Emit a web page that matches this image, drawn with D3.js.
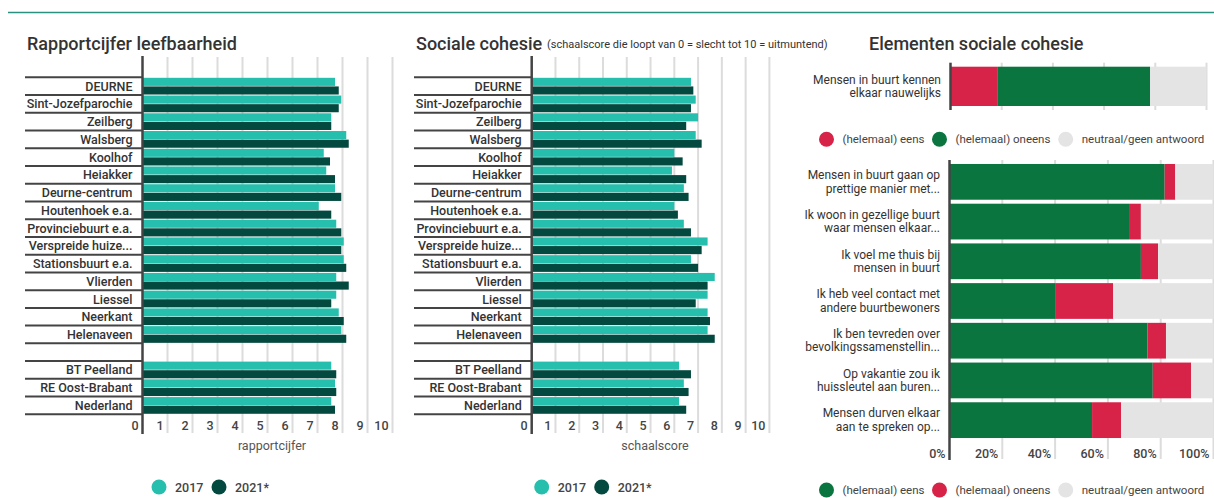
<!DOCTYPE html>
<html>
<head>
	<meta charset="utf-8">
	<script src="https://d3js.org/d3.v7.min.js"></script>
	<title>Sociale cohesie</title>
	<style type="text/css">
		body { margin: 0; background: #fff; }
		svg { display: block; font-family: Roboto, "Noto Sans", sans-serif; }
		.title { font-size: 18px; font-weight: 500; fill: #333; }
		.sub { font-size: 11px; fill: #333; }
		.rowlabel { font-size: 12.5px; font-weight: 500; fill: #333; }
		.tick { font-size: 12.5px; font-weight: 500; fill: #444; }
		.axtitle { font-size: 12.5px; fill: #555; }
		.leg { font-size: 12.5px; font-weight: 500; fill: #444; }
		.leg2 { font-size: 11.5px; fill: #444; }
		.stlabel { font-size: 12px; fill: #333; }
	</style>
</head>
<body>
	<div id="chart"></div>

	<script type="text/javascript">

		// gebieden (lege rij "-" is de witregel voor de vergelijkingsgebieden)
		var gebieden = ["DEURNE", "Sint-Jozefparochie", "Zeilberg", "Walsberg", "Koolhof", "Heiakker",
			"Deurne-centrum", "Houtenhoek e.a.", "Provinciebuurt e.a.", "Verspreide huize...",
			"Stationsbuurt e.a.", "Vlierden", "Liessel", "Neerkant", "Helenaveen", "-",
			"BT Peelland", "RE Oost-Brabant", "Nederland"];

		var rapport2017 = [7.7, 7.95, 7.55, 8.15, 7.25, 7.35, 7.7, 7.05, 7.75, 8.05, 8.05, 7.75, 7.75, 7.85, 7.95, null, 7.55, 7.7, 7.55];
		var rapport2021 = [7.85, 7.85, 7.55, 8.25, 7.5, 7.7, 7.95, 7.55, 7.95, 7.95, 8.15, 8.25, 7.55, 8.05, 8.15, null, 7.75, 7.75, 7.7];

		var cohesie2017 = [6.7, 6.9, 7.0, 6.9, 6.0, 5.9, 6.4, 6.0, 6.4, 7.4, 6.7, 7.7, 7.4, 7.4, 7.4, null, 6.2, 6.4, 6.2];
		var cohesie2021 = [6.8, 6.7, 6.5, 7.15, 6.35, 6.5, 6.6, 6.15, 6.7, 7.15, 7.0, 7.4, 6.9, 7.5, 7.7, null, 6.7, 6.6, 6.5];

		var schaalTicks = [0, 1, 2, 3, 4, 5, 6, 7, 8, 9, 10];
		var jaren = ["2017", "2021*"];

		// elementen sociale cohesie (percentages)
		var stellingTop = ["Mensen in buurt kennen", "elkaar nauwelijks"];
		var topEens = [18.5];
		var topOneens = [59.5];
		var topNeutraal = [22];

		var stellingen = [
			["Mensen in buurt gaan op", "prettige manier met..."],
			["Ik woon in gezellige buurt", "waar mensen elkaar..."],
			["Ik voel me thuis bij", "mensen in buurt"],
			["Ik heb veel contact met", "andere buurtbewoners"],
			["Ik ben tevreden over", "bevolkingssamenstellin..."],
			["Op vakantie zou ik", "huissleutel aan buren..."],
			["Mensen durven elkaar", "aan te spreken op..."]
		];
		var eens = [81.5, 68, 72.5, 40, 75, 77, 54];
		var oneens = [4, 4.5, 6.5, 22, 7, 14.5, 11];
		var neutraal = [14.5, 27.5, 21, 38, 18, 8.5, 35];
		var procentTicks = [0, 20, 40, 60, 80, 100];

		var teal = "#26bfad", donker = "#03493f";
		var groen = "#0b7540", rood = "#d82348", grijs = "#e4e4e4";

		var width = 1214, height = 498;
		var svg = d3.select("#chart").append("svg")
			.attr("width", width).attr("height", height);

		svg.append("line").attr("x1", 8).attr("x2", width).attr("y1", 12.5).attr("y2", 12.5)
			.attr("stroke", "#2a9080").attr("stroke-width", 1.5);

		function groupedPanel(opt) {
			var g = svg.append("g");
			var x = d3.scaleLinear().domain([0, 10]).range([opt.x0, opt.x1]);
			var y = d3.scaleBand().domain(gebieden).range([77.3, 414.3]);
			var sub = d3.scaleBand().domain([0, 1]).range([0, y.bandwidth()]).paddingOuter(0.06).paddingInner(0.06);

			g.append("text").attr("class", "title").attr("x", opt.titleX).attr("y", 50).text(opt.title);

			// gridlines
			g.selectAll(".grid").data(schaalTicks.slice(1)).enter().append("line")
				.attr("x1", d => x(d)).attr("x2", d => x(d))
				.attr("y1", 57).attr("y2", 433)
				.attr("stroke", "#dcdcdc").attr("stroke-width", 2);

			// scheidingslijnen labels
			var grenzen = gebieden.map(d => y(d)).concat([y.range()[1]]);
			g.selectAll(".sep").data(grenzen).enter().append("line")
				.attr("x1", opt.lineX).attr("x2", opt.x0).attr("y1", d => d).attr("y2", d => d)
				.attr("stroke", "#444").attr("stroke-width", 2);

			g.selectAll(".lab").data(gebieden.filter(d => d !== "-")).enter().append("text")
				.attr("class", "rowlabel").attr("text-anchor", "end")
				.attr("x", opt.x0 - 10).attr("y", d => y(d) + y.bandwidth() / 2 + 4.5)
				.text(d => d);

			[opt.a, opt.b].forEach(function (vals, j) {
				g.selectAll(".bar" + j).data(gebieden.map((d, i) => ({ k: d, v: vals[i] })).filter(d => d.v != null))
					.enter().append("rect")
					.attr("x", x(0)).attr("y", d => y(d.k) + sub(j))
					.attr("width", d => x(d.v) - x(0)).attr("height", sub.bandwidth())
					.attr("fill", j === 0 ? teal : donker);
			});

			// as
			g.append("line").attr("x1", x(0)).attr("x2", x(0)).attr("y1", 56).attr("y2", 434)
				.attr("stroke", "#444").attr("stroke-width", 2.5);

			g.selectAll(".tk").data(schaalTicks).enter().append("text")
				.attr("class", "tick").attr("text-anchor", "end")
				.attr("x", d => x(d) - 4).attr("y", 429.5).text(d => d);

			g.append("text").attr("class", "axtitle").attr("text-anchor", "middle")
				.attr("x", opt.axTitleX).attr("y", 450).text(opt.axTitle);

			jaren.forEach(function (j, i) {
				g.append("circle").attr("cx", opt.legX + i * 60).attr("cy", 487).attr("r", 7.5)
					.attr("fill", i === 0 ? teal : donker);
				g.append("text").attr("class", "leg").attr("x", opt.legX + 16 + i * 60).attr("y", 491.5).text(j);
			});
		}

		groupedPanel({ title: "Rapportcijfer leefbaarheid", titleX: 27, x0: 142.5, x1: 392.5, lineX: 25,
			a: rapport2017, b: rapport2021, axTitle: "rapportcijfer", axTitleX: 272, legX: 159 });
		groupedPanel({ title: "Sociale cohesie", titleX: 416, x0: 531.7, x1: 769.4, lineX: 414,
			a: cohesie2017, b: cohesie2021, axTitle: "schaalscore", axTitleX: 655, legX: 541.7 });

		svg.append("text").attr("class", "sub").attr("x", 547).attr("y", 48)
			.text("(schaalscore die loopt van 0 = slecht tot 10 = uitmuntend)");

		// ---- Elementen sociale cohesie ----
		svg.append("text").attr("class", "title").attr("x", 869).attr("y", 50).text("Elementen sociale cohesie");

		function stackBars(g, x, rows, y, h, parts, kleuren) {
			rows.forEach(function (r, i) {
				var start = 0;
				parts.forEach(function (p, k) {
					g.append("rect").attr("x", x(start)).attr("y", y(r)).attr("height", h)
						.attr("width", x(start + p[i]) - x(start)).attr("fill", kleuren[k]);
					start += p[i];
				});
			});
		}

		function grid(g, x, y1, y2) {
			g.selectAll(".pg").data(procentTicks.slice(1)).enter().append("line")
				.attr("x1", d => x(d)).attr("x2", d => x(d)).attr("y1", y1).attr("y2", y2)
				.attr("stroke", "#dcdcdc").attr("stroke-width", 2);
		}

		function twoLines(g, x, yc, lines) {
			var t = g.append("text").attr("class", "stlabel").attr("text-anchor", "end");
			lines.forEach(function (l, i) {
				t.append("tspan").attr("x", x).attr("y", yc + (i - 0.5) * 13.5 + 4).text(l);
			});
		}

		function legenda(y, items) {
			var xs = [826.5, 939.5, 1065.7];
			items.forEach(function (it, i) {
				svg.append("circle").attr("cx", xs[i]).attr("cy", y).attr("r", 7.5).attr("fill", it[1]);
				svg.append("text").attr("class", "leg2").attr("x", xs[i] + 16).attr("y", y + 4).text(it[0]);
			});
		}

		// bovenste stelling (negatief geformuleerd)
		var gTop = svg.append("g");
		var xTop = d3.scaleLinear().domain([0, 100]).range([950.5, 1206.5]);
		grid(gTop, xTop, 62.7, 110);
		stackBars(gTop, xTop, [0], () => 66.7, 39.3, [topEens, topOneens, topNeutraal], [rood, groen, grijs]);
		gTop.append("line").attr("x1", xTop(0)).attr("x2", xTop(0)).attr("y1", 62.7).attr("y2", 110)
			.attr("stroke", "#444").attr("stroke-width", 2.5);
		twoLines(gTop, 941, 86.3, stellingTop);

		legenda(139.3, [["(helemaal) eens", rood], ["(helemaal) oneens", groen], ["neutraal/geen antwoord", grijs]]);

		// overige stellingen
		var gSt = svg.append("g");
		var xSt = d3.scaleLinear().domain([0, 100]).range([949.5, 1213.5]);
		var ySt = d3.scaleBand().domain(d3.range(stellingen.length)).range([162, 440]).paddingInner(0.1).paddingOuter(0.05);
		grid(gSt, xSt, 160, 459);
		stackBars(gSt, xSt, d3.range(stellingen.length), ySt, ySt.bandwidth(), [eens, oneens, neutraal], [groen, rood, grijs]);
		gSt.append("line").attr("x1", xSt(0)).attr("x2", xSt(0)).attr("y1", 160).attr("y2", 460)
			.attr("stroke", "#444").attr("stroke-width", 2.5);
		stellingen.forEach(function (s, i) {
			twoLines(gSt, 940, ySt(i) + ySt.bandwidth() / 2, s);
		});
		gSt.selectAll(".pt").data(procentTicks).enter().append("text")
			.attr("class", "tick").attr("text-anchor", "end")
			.attr("x", d => xSt(d) - 4).attr("y", 457.5).text(d => d + "%");

		legenda(490, [["(helemaal) eens", groen], ["(helemaal) oneens", rood], ["neutraal/geen antwoord", grijs]]);

	</script>
</body>
</html>
